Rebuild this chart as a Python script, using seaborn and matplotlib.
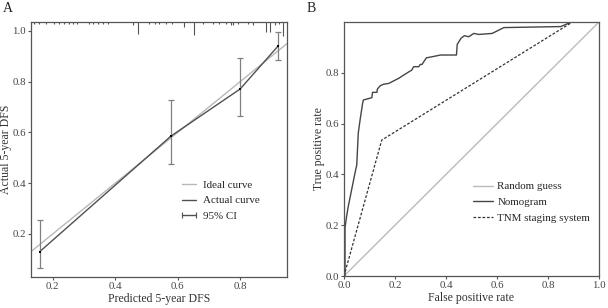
import numpy as np
import pandas as pd
import matplotlib
matplotlib.use("Agg")
import matplotlib.pyplot as plt
import matplotlib.transforms as mtransforms
from matplotlib.lines import Line2D
import seaborn as sns

# ---------------- Data ----------------
# Panel A: calibration
pred_dfs = [0.158, 0.578, 0.800, 0.922]
actual_dfs = [0.130, 0.585, 0.771, 0.941]
ci_low = [0.067, 0.474, 0.663, 0.886]
ci_high = [0.256, 0.726, 0.895, 0.997]
ideal_x = [0.13, 0.95]
rug_x = [0.141, 0.157, 0.179, 0.205, 0.221, 0.237, 0.253, 0.264, 0.278,
         0.317, 0.328, 0.344, 0.360, 0.376, 0.458, 0.472, 0.509, 0.527,
         0.540, 0.562, 0.583, 0.620, 0.651, 0.680, 0.712, 0.732, 0.756,
         0.772, 0.777, 0.793, 0.825, 0.841, 0.884, 0.894, 0.910, 0.923, 0.936]
rug_count = [1, 1, 1, 1, 1, 1, 1, 1, 1,
             1, 1, 1, 1, 1, 1.3, 5, 1, 1,
             1, 1, 1, 2.2, 5.5, 1, 1, 1, 1,
             1.3, 1.3, 1, 1, 1.3, 4.5, 4.5, 1.3, 1, 6]
a_xticks = [0.2, 0.4, 0.6, 0.8]
a_yticks = [0.2, 0.4, 0.6, 0.8, 1.0]

# Panel B: ROC
random_x = [0.0, 1.0]
nomo_fpr = [0.0, 0.004, 0.004, 0.010, 0.016, 0.024, 0.034, 0.043, 0.050, 0.056,
            0.063, 0.073, 0.076, 0.109, 0.112, 0.129, 0.131, 0.142, 0.155, 0.175,
            0.214, 0.234, 0.266, 0.273, 0.293, 0.299, 0.306, 0.323, 0.345, 0.378,
            0.441, 0.444, 0.459, 0.472, 0.489, 0.509, 0.529, 0.581, 0.627, 0.850,
            0.890, 0.920, 1.0]
nomo_tpr = [0.0, 0.0, 0.19, 0.233, 0.27, 0.31, 0.36, 0.405, 0.437, 0.563,
            0.614, 0.680, 0.693, 0.702, 0.723, 0.723, 0.736, 0.749, 0.755, 0.758,
            0.778, 0.791, 0.811, 0.824, 0.824, 0.833, 0.833, 0.859, 0.863, 0.870,
            0.870, 0.912, 0.936, 0.946, 0.942, 0.955, 0.951, 0.955, 0.978, 0.982,
            0.999, 1.0, 1.0]
tnm_fpr = [0.0, 0.148, 0.896, 1.0]
tnm_tpr = [0.0, 0.535, 1.0, 1.0]
b_xticks = [0.0, 0.2, 0.4, 0.6, 0.8, 1.0]
b_yticks = [0.0, 0.2, 0.4, 0.6, 0.8]

# ---------------- Style ----------------
sns.set_style("white")
plt.rcParams['font.family'] = ['Liberation Serif', 'DejaVu Serif']
plt.rcParams['axes.edgecolor'] = '#555555'
plt.rcParams['axes.linewidth'] = 0.9

TICK_FS = 7.8
LABEL_FS = 8.5
LEG_FS = 7.9
TXT_COL = '#333333'

fig = plt.figure(figsize=(6.08, 3.08), dpi=100)
axA = fig.add_axes([31/608, 31/308, (287-31)/608, (277-22)/308])
axB = fig.add_axes([344/608, 32/308, (599-344)/608, (276-22)/308])

# ---------------- Panel A ----------------
sns.lineplot(x=ideal_x, y=ideal_x, ax=axA, color='#b8b8b8', lw=1.0,
             estimator=None, sort=False, label='Ideal curve')
sns.lineplot(x=pred_dfs, y=actual_dfs, ax=axA, color='#505050', lw=1.0,
             estimator=None, sort=False, label='Actual curve')
yerr = np.array([np.array(actual_dfs) - np.array(ci_low),
                 np.array(ci_high) - np.array(actual_dfs)])
axA.errorbar(pred_dfs, actual_dfs, yerr=yerr, fmt='none', ecolor='#808080',
             elinewidth=0.9, capsize=2.2, capthick=0.9)
axA.scatter(pred_dfs, actual_dfs, s=2.5, marker='s', color='black', zorder=5,
            linewidths=0)

trans = mtransforms.blended_transform_factory(axA.transData, axA.transAxes)
rug_len = np.array(rug_count) * 2.3 / 255
axA.vlines(rug_x, 1 - rug_len, 1, transform=trans, color='#555555', lw=0.8)

axA.set_xlim(0.13, 0.95)
axA.set_ylim(0.03, 1.035)
axA.set_xticks(a_xticks)
axA.set_yticks(a_yticks)
axA.set_xticklabels([f"{v:.1f}" for v in a_xticks])
axA.set_yticklabels([f"{v:.1f}" for v in a_yticks])
axA.set_xlabel("Predicted 5-year DFS", fontsize=LABEL_FS, color=TXT_COL, labelpad=1)
axA.set_ylabel("Actual 5-year DFS", fontsize=LABEL_FS, color=TXT_COL, labelpad=0.5)

ci_handle = Line2D([0], [0], color='#505050', lw=1.0, marker='|', markersize=4,
                   markeredgewidth=0.8)
hA, lA = axA.get_legend_handles_labels()
axA.legend(hA + [ci_handle], lA + ['95% CI'], loc='center left',
           bbox_to_anchor=(0.54, 0.30), frameon=False, fontsize=LEG_FS,
           handlelength=1.8, handletextpad=0.4, labelspacing=0.55, numpoints=2)

# ---------------- Panel B ----------------
sns.lineplot(x=random_x, y=random_x, ax=axB, color='#bbbbbb', lw=1.0,
             estimator=None, sort=False, label='Random guess')
sns.lineplot(x=nomo_fpr, y=nomo_tpr, ax=axB, color='#454545', lw=1.0,
             estimator=None, sort=False, label='Nomogram')
sns.lineplot(x=tnm_fpr, y=tnm_tpr, ax=axB, color='#333333', lw=0.9,
             estimator=None, sort=False, label='TNM staging system',
             linestyle=(0, (2.2, 1.4)))
axB.set_xlim(0, 1)
axB.set_ylim(0, 1)
axB.set_xticks(b_xticks)
axB.set_yticks(b_yticks)
axB.set_xticklabels([f"{v:.1f}" for v in b_xticks])
axB.set_yticklabels([f"{v:.1f}" for v in b_yticks])
axB.set_xlabel("False positive rate", fontsize=LABEL_FS, color=TXT_COL, labelpad=1)
axB.set_ylabel("True positive rate", fontsize=LABEL_FS, color=TXT_COL, labelpad=0)
for line in axB.get_lines():
    if line.get_label() == 'TNM staging system':
        line.set_linestyle((0, (2.2, 1.4)))
hB, lB = axB.get_legend_handles_labels()
axB.legend(hB, lB, loc='center left', bbox_to_anchor=(0.468, 0.29),
           frameon=False, fontsize=LEG_FS, handlelength=1.8,
           handletextpad=0.4, labelspacing=0.55)

for ax in (axA, axB):
    ax.tick_params(axis='both', which='major', direction='out', length=2.5,
                   width=0.8, color='#555555', labelsize=TICK_FS,
                   labelcolor='#444444', pad=1.2, bottom=True, left=True)
    for s in ax.spines.values():
        s.set_visible(True)

fig.text(3/608, 1 - 9/308, "A", fontsize=10, ha='left', va='center', color='#222222')
fig.text(307/608, 1 - 9/308, "B", fontsize=10, ha='left', va='center', color='#222222')

fig.savefig("out.png", dpi=100)
